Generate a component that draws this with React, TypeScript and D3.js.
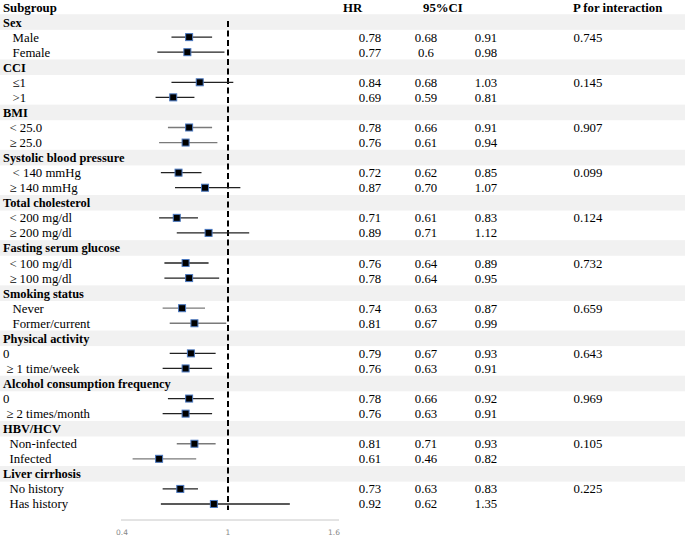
import React from "react";
import * as d3 from "d3";

const groups = [
  "Sex",
  "CCI",
  "BMI",
  "Systolic blood pressure",
  "Total cholesterol",
  "Fasting serum glucose",
  "Smoking status",
  "Physical activity",
  "Alcohol consumption frequency",
  "HBV/HCV",
  "Liver cirrhosis",
];

const subgroups = [
  ["   Male", "   Female"],
  ["   ≤1", "   >1"],
  ["  < 25.0", "  ≥ 25.0"],
  ["   < 140 mmHg", "  ≥ 140 mmHg"],
  ["  < 200 mg/dl", "  ≥ 200 mg/dl"],
  ["  < 100 mg/dl", "  ≥ 100 mg/dl"],
  ["   Never", "   Former/current"],
  ["0", " ≥ 1 time/week"],
  ["0", " ≥ 2 times/month"],
  ["  Non-infected", "  Infected"],
  ["  No history", "  Has history"],
];

const hrText = [
  ["0.78", "0.77"], ["0.84", "0.69"], ["0.78", "0.76"], ["0.72", "0.87"],
  ["0.71", "0.89"], ["0.76", "0.78"], ["0.74", "0.81"], ["0.79", "0.76"],
  ["0.78", "0.76"], ["0.81", "0.61"], ["0.73", "0.92"],
];
const lowerText = [
  ["0.68", "0.6"], ["0.68", "0.59"], ["0.66", "0.61"], ["0.62", "0.70"],
  ["0.61", "0.71"], ["0.64", "0.64"], ["0.63", "0.67"], ["0.67", "0.63"],
  ["0.66", "0.63"], ["0.71", "0.46"], ["0.63", "0.62"],
];
const upperText = [
  ["0.91", "0.98"], ["1.03", "0.81"], ["0.91", "0.94"], ["0.85", "1.07"],
  ["0.83", "1.12"], ["0.89", "0.95"], ["0.87", "0.99"], ["0.93", "0.91"],
  ["0.92", "0.91"], ["0.93", "0.82"], ["0.83", "1.35"],
];
const pInteraction = [
  "0.745", "0.145", "0.907", "0.099", "0.124", "0.732", "0.659", "0.643",
  "0.969", "0.105", "0.225",
];

const axisTicks = [0.4, 1, 1.6];
const headers = ["Subgroup", "HR", "95%CI", "P for interaction"];
const grayLineGroups = ["BMI", "Smoking status", "HBV/HCV"];

type Row = {
  kind: "group" | "sub";
  label: string;
  group: string;
  hr?: number;
  lo?: number;
  hi?: number;
  hrS?: string;
  loS?: string;
  hiS?: string;
  p?: string;
};

const rows: Row[] = [];
groups.forEach((g, gi) => {
  rows.push({ kind: "group", label: g, group: g });
  subgroups[gi].forEach((s, si) => {
    rows.push({
      kind: "sub",
      label: s,
      group: g,
      hr: +hrText[gi][si],
      lo: +lowerText[gi][si],
      hi: +upperText[gi][si],
      hrS: hrText[gi][si],
      loS: lowerText[gi][si],
      hiS: upperText[gi][si],
      p: si === 0 ? pInteraction[gi] : "",
    });
  });
});

const W = 685;
const H = 536;
const serif = "'Liberation Serif', 'Times New Roman', serif";

export default function App() {
  const x = d3.scaleLinear().domain([0.4, 1.6]).range([122, 334]);
  const y = d3
    .scaleLinear()
    .domain([0, rows.length])
    .range([7, 7 + rows.length * 15.06]);
  const rowY = (i: number) => y(i + 1);

  return (
    <svg
      width={W}
      height={H}
      style={{ position: "absolute", left: 0, top: 0, background: "#fff" }}
      fontFamily={serif}
    >
      {rows.map((r, i) =>
        r.kind === "group" ? (
          <rect
            key={"b" + i}
            x={0}
            y={rowY(i) - 7.8}
            width={W}
            height={15.6}
            fill="#f1f1f1"
          />
        ) : null
      )}

      <g fontWeight="bold" fontSize={12.8} fill="#000">
        <text x={3} y={y(0) + 4.5}>{headers[0]}</text>
        <text x={343} y={y(0) + 4.5}>{headers[1]}</text>
        <text x={423} y={y(0) + 4.5}>{headers[2]}</text>
        <text x={573} y={y(0) + 4.5}>{headers[3]}</text>
      </g>

      {rows.map((r, i) => {
        const cy = rowY(i);
        if (r.kind === "group") {
          return (
            <text
              key={"g" + i}
              x={3}
              y={cy + 4.5}
              fontSize={12.4}
              fontWeight="bold"
            >
              {r.label}
            </text>
          );
        }
        return (
          <g key={"s" + i} fontSize={12.8}>
            <text x={3} y={cy + 4.5} style={{ whiteSpace: "pre" }}>
              {r.label}
            </text>
            <text x={370} y={cy + 4.5} textAnchor="middle">{r.hrS}</text>
            <text x={426} y={cy + 4.5} textAnchor="middle">{r.loS}</text>
            <text x={486} y={cy + 4.5} textAnchor="middle">{r.hiS}</text>
            <text x={588} y={cy + 4.5} textAnchor="middle">{r.p}</text>
          </g>
        );
      })}

      <line
        x1={x(1)}
        x2={x(1)}
        y1={rowY(0) - 1}
        y2={rowY(rows.length - 1) + 6}
        stroke="#000"
        strokeWidth={2}
        strokeDasharray="6,3.5"
      />

      {rows.map((r, i) => {
        if (r.kind !== "sub") return null;
        const cy = rowY(i);
        const gray = grayLineGroups.includes(r.group);
        return (
          <g key={"m" + i}>
            <line
              x1={x(r.lo!)}
              x2={x(r.hi!)}
              y1={cy}
              y2={cy}
              stroke={gray ? "#7a7a7a" : "#222"}
              strokeWidth={1.3}
            />
            <rect
              x={x(r.hr!) - 3.5}
              y={cy - 3.5}
              width={7}
              height={7}
              fill="#000"
              stroke="#4a78c0"
              strokeWidth={1}
            />
          </g>
        );
      })}

      <line x1={121} x2={339} y1={520} y2={520} stroke="#c8c8c8" strokeWidth={1} />
      {axisTicks.map((t) => (
        <text
          key={t}
          x={x(t)}
          y={535}
          textAnchor="middle"
          fontSize={7.5}
          fontFamily="'DejaVu Sans', sans-serif"
          fill="#888"
        >
          {String(t)}
        </text>
      ))}
    </svg>
  );
}
